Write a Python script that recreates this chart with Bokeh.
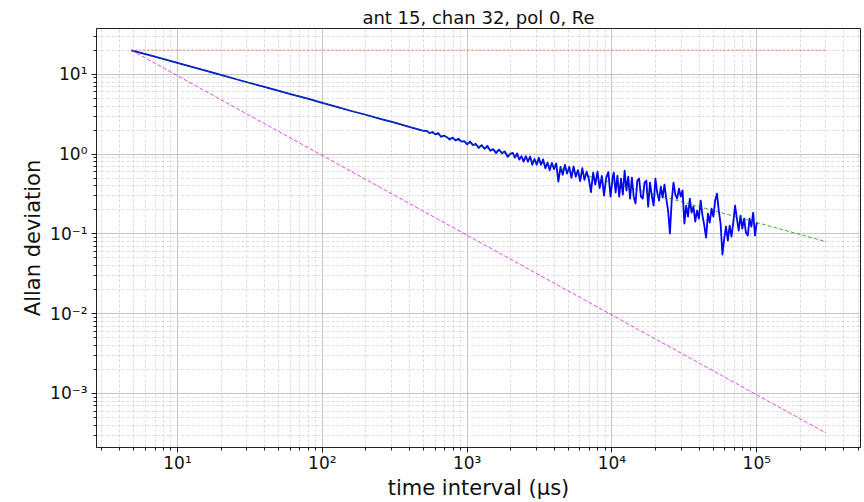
import numpy as np
from bokeh.plotting import figure
from bokeh.models import Range1d, FixedTicker, CustomJSTickFormatter
from bokeh.embed import file_html
from bokeh.resources import INLINE

TITLE = "ant 15, chan 32, pol 0, Re"
X_LABEL = "time interval (μs)"
Y_LABEL = "Allan deviation"

# reference lines (start / end of the fitted guide lines)
ref_tau = [4.8, 3.0e5]
white_flat = [20.0, 20.0]        # red dotted
slope_half = [20.0, 0.08]        # green dashed, tau^-1/2
slope_one = [20.0, 3.2e-4]       # magenta dashed, tau^-1

blue_tau_log10 = [
    0.681, 0.8, 0.9, 1.0, 1.1, 1.2, 1.3, 1.4, 1.5, 1.6, 1.7, 1.8, 1.9, 2.0, 2.1, 2.2, 2.3, 2.4, 2.5, 2.6, 2.7,
    2.72, 2.74, 2.76, 2.78, 2.80, 2.82, 2.84, 2.86, 2.88, 2.90, 2.92, 2.94, 2.96, 2.98, 3.00,
    3.02, 3.04, 3.06, 3.08, 3.10, 3.12, 3.14, 3.16, 3.18, 3.20, 3.22, 3.24, 3.26, 3.28, 3.30,
    3.315, 3.33, 3.345, 3.36, 3.375, 3.39, 3.405, 3.42, 3.435, 3.45, 3.465, 3.48, 3.495, 3.51,
    3.525, 3.54, 3.555, 3.57, 3.585, 3.60, 3.615, 3.63, 3.645, 3.66, 3.675, 3.69, 3.705, 3.72,
    3.735, 3.75, 3.765, 3.78, 3.795, 3.81, 3.825, 3.84, 3.855, 3.87, 3.885, 3.90, 3.915, 3.93,
    3.945, 3.96, 3.975, 3.99, 4.005,
    4.0125, 4.025, 4.0375, 4.05, 4.0625, 4.075, 4.0875, 4.1, 4.1125, 4.125,
    4.1375, 4.15, 4.1625, 4.175, 4.1875, 4.2, 4.2125, 4.225, 4.2375, 4.25,
    4.2625, 4.275, 4.2875, 4.3, 4.3125, 4.325, 4.3375, 4.35, 4.3625, 4.375,
    4.3875, 4.4, 4.4125, 4.425, 4.4375, 4.45, 4.4625, 4.475, 4.4875, 4.5,
    4.5125, 4.525, 4.5375, 4.55, 4.5625, 4.575, 4.5875, 4.6, 4.6125, 4.625,
    4.6375, 4.65, 4.6625, 4.675, 4.6875, 4.7, 4.7125, 4.725, 4.7375, 4.75,
    4.7625, 4.775, 4.7875, 4.8, 4.8125, 4.825, 4.8375, 4.85, 4.8625, 4.875,
    4.8875, 4.9, 4.9125, 4.925, 4.9375, 4.95, 4.9625, 4.975, 4.9875, 5.0,
]
blue_adev_log10 = [
    1.301, 1.242, 1.192, 1.142, 1.092, 1.042, 0.992, 0.941, 0.891, 0.842, 0.791, 0.742, 0.694, 0.641,
    0.592, 0.540, 0.493, 0.440, 0.393, 0.340, 0.292,
    0.292, 0.262, 0.277, 0.247, 0.262, 0.217, 0.232, 0.212, 0.182, 0.207, 0.172, 0.192, 0.157, 0.162,
    0.122, 0.157, 0.112, 0.127, 0.077, 0.112, 0.067, 0.102, 0.042, 0.062, 0.012, 0.057, 0.012, 0.032,
    -0.034, 0.007,
    0.014, -0.044, 0.009, -0.069, -0.026, -0.094, -0.026, -0.094, -0.031, -0.134,
    -0.061, -0.134, -0.046, -0.134, -0.066, -0.179, -0.106, -0.204, -0.111, -0.189,
    -0.116, -0.344, -0.161, -0.259, -0.136, -0.244, -0.161, -0.299, -0.156, -0.284,
    -0.201, -0.339, -0.176, -0.324, -0.221, -0.309, -0.476, -0.234, -0.381, -0.219,
    -0.426, -0.274, -0.521, -0.299, -0.226, -0.534, -0.291,
    -0.232, -0.482, -0.269, -0.533, -0.307, -0.507, -0.207, -0.457, -0.282, -0.558,
    -0.294, -0.533, -0.620, -0.332, -0.307, -0.533, -0.558, -0.357, -0.332, -0.658,
    -0.357, -0.520, -0.645, -0.307, -0.482, -0.583, -0.407, -0.545, -0.382, -0.558,
    -0.708, -0.996, -0.583, -0.357, -0.507, -0.558, -0.432, -0.533, -0.457, -0.871,
    -0.645, -0.783, -0.558, -0.733, -0.658, -0.846, -0.708, -0.808, -0.583, -0.771,
    -0.896, -1.046, -0.746, -0.858, -0.683, -0.783, -0.583, -0.495, -0.708, -0.871,
    -1.259, -1.059, -0.908, -1.084, -0.896, -1.034, -0.858, -0.645, -0.808, -0.959,
    -0.771, -0.934, -0.808, -0.984, -1.021, -0.808, -0.908, -0.733, -1.021, -0.858,
]

x_ticks = [1e1, 1e2, 1e3, 1e4, 1e5]
y_ticks = [1e-3, 1e-2, 1e-1, 1e0, 1e1]

blue_tau = 10 ** np.array(blue_tau_log10)
blue_adev = 10 ** np.array(blue_adev_log10)

FONT = "DejaVu Sans"

p = figure(width=864, height=502, x_axis_type="log", y_axis_type="log",
           x_range=Range1d(2.76, 5.2e5), y_range=Range1d(2.1e-4, 37.5),
           output_backend="svg", toolbar_location=None,
           min_border_left=96, min_border_right=4, min_border_top=28, min_border_bottom=40,
           title=TITLE)
p.background_fill_color = "white"
p.border_fill_color = "white"
p.outline_line_color = "#222222"
p.outline_line_width = 1

p.title.align = "center"
p.title.text_font = FONT
p.title.text_font_size = "18px"
p.title.text_font_style = "normal"
p.title.text_color = "#111111"
p.title.standoff = 2

def minors(decades):
    out = []
    for d in decades:
        for m in range(2, 10):
            out.append(m * 10.0 ** d)
    return out

p.xaxis.ticker = FixedTicker(ticks=x_ticks, minor_ticks=minors(range(0, 6)))
p.yaxis.ticker = FixedTicker(ticks=y_ticks, minor_ticks=minors(range(-4, 2)))

fmt = CustomJSTickFormatter(code="""
const sup = {'0':'\u2070','1':'\u00b9','2':'\u00b2','3':'\u00b3','4':'\u2074','5':'\u2075','6':'\u2076','7':'\u2077','8':'\u2078','9':'\u2079','-':'\u207b'};
const e = Math.round(Math.log10(tick));
return '10' + String(e).split('').map(c => sup[c]).join('');
""")
for ax in (p.xaxis, p.yaxis):
    ax.formatter = fmt
    ax.major_label_text_font = FONT
    ax.major_label_text_font_size = "17px"
    ax.major_label_text_color = "#111111"
    ax.axis_label_text_font = FONT
    ax.axis_label_text_font_size = "21px"
    ax.axis_label_text_font_style = "normal"
    ax.axis_label_text_color = "#111111"
    ax.axis_line_color = "#222222"
    ax.major_tick_line_color = "#222222"
    ax.minor_tick_line_color = "#222222"
    ax.major_tick_in = 0
    ax.major_tick_out = 5
    ax.minor_tick_in = 0
    ax.minor_tick_out = 3
p.xaxis.axis_label = X_LABEL
p.yaxis.axis_label = Y_LABEL
p.xaxis.major_label_standoff = 0
p.xaxis.axis_label_standoff = 0
p.yaxis.major_label_standoff = 4
p.yaxis.axis_label_standoff = 2

for g in (p.xgrid, p.ygrid):
    g.grid_line_color = "#b8b8b8"
    g.grid_line_alpha = 0.8
    g.grid_line_width = 1
    g.minor_grid_line_color = "#d4d4d4"
    g.minor_grid_line_alpha = 0.8
    g.minor_grid_line_dash = "3 2"

p.line(blue_tau, blue_adev, line_color="#0000ff", line_width=1.8, line_join="round")
p.line(ref_tau, slope_half, line_color="#008000", line_width=1, line_dash="4 2", line_alpha=0.7)
p.line(ref_tau, white_flat, line_color="#ff3030", line_width=1.5, line_dash="2 2", line_alpha=0.45)
p.line(ref_tau, slope_one, line_color="#dd00dd", line_width=1, line_dash="4 2", line_alpha=0.7)

open("out.html", "w").write(file_html(p, INLINE))
